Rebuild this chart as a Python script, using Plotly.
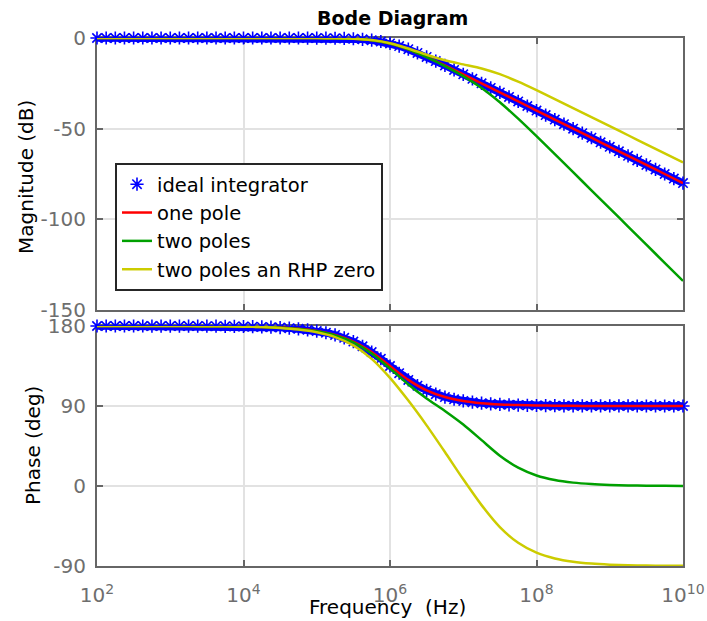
import plotly.graph_objects as go

# ---------------- data ----------------
freq_hz = [1e2, 1.78e2, 3.16e2, 5.62e2, 1e3, 1.78e3, 3.16e3, 5.62e3,
           1e4, 1.78e4, 3.16e4, 5.62e4, 1e5, 1.78e5, 3.16e5, 5.62e5,
           1e6, 1.78e6, 3.16e6, 5.62e6, 1e7, 1.78e7, 3.16e7, 5.62e7,
           1e8, 1.78e8, 3.16e8, 5.62e8, 1e9, 1.78e9, 3.16e9, 5.62e9, 1e10]

# the ideal integrator is drawn with many asterisk markers (denser grid)
ideal_freq_hz = [1e2, 1.334e2, 1.778e2, 2.371e2, 3.162e2, 4.217e2, 5.623e2, 7.499e2,
                 1e3, 1.334e3, 1.778e3, 2.371e3, 3.162e3, 4.217e3, 5.623e3, 7.499e3,
                 1e4, 1.334e4, 1.778e4, 2.371e4, 3.162e4, 4.217e4, 5.623e4, 7.499e4,
                 1e5, 1.334e5, 1.778e5, 2.371e5, 3.162e5, 4.217e5, 5.623e5, 7.499e5,
                 1e6, 1.334e6, 1.778e6, 2.371e6, 3.162e6, 4.217e6, 5.623e6, 7.499e6,
                 1e7, 1.334e7, 1.778e7, 2.371e7, 3.162e7, 4.217e7, 5.623e7, 7.499e7,
                 1e8, 1.334e8, 1.778e8, 2.371e8, 3.162e8, 4.217e8, 5.623e8, 7.499e8,
                 1e9, 1.334e9, 1.778e9, 2.371e9, 3.162e9, 4.217e9, 5.623e9, 7.499e9,
                 1e10]
ideal_mag = [0, 0, 0, 0, 0, 0, 0, 0,
             0, 0, 0, 0, 0, 0, 0, 0,
             0, 0, 0, 0, 0, -0.01, -0.01, -0.02,
             -0.04, -0.08, -0.14, -0.24, -0.41, -0.71, -1.19, -1.94,
             -3.01, -4.44, -6.19, -8.21, -10.41, -12.74, -15.13, -17.58,
             -20.04, -22.52, -25.01, -27.51, -30.0, -32.5, -35.0, -37.5,
             -40.0, -42.5, -45.0, -47.5, -50.0, -52.5, -55.0, -57.5,
             -60.0, -62.5, -65.0, -67.5, -70.0, -72.5, -75.0, -77.5,
             -80.0]
ideal_phase = [179.99, 179.99, 179.99, 179.99, 179.98, 179.98, 179.97, 179.96,
               179.94, 179.92, 179.9, 179.86, 179.82, 179.76, 179.68, 179.57,
               179.43, 179.24, 178.98, 178.64, 178.19, 177.59, 176.78, 175.71,
               174.29, 172.4, 169.92, 166.66, 162.45, 157.13, 150.64, 143.13,
               135.0, 126.87, 119.36, 112.87, 107.55, 103.34, 100.08, 97.6,
               95.71, 94.29, 93.22, 92.41, 91.81, 91.36, 91.02, 90.76,
               90.57, 90.43, 90.32, 90.24, 90.18, 90.14, 90.1, 90.08,
               90.06, 90.04, 90.03, 90.02, 90.02, 90.01, 90.01, 90.01,
               90.01]

one_pole_mag = [0, 0, 0, 0, 0, 0, 0, 0, 0, 0, 0, -0.01, -0.04, -0.14, -0.41, -1.19,
                -3.01, -6.19, -10.41, -15.13, -20.04, -25.01, -30.0, -35.0,
                -40.0, -45.0, -50.0, -55.0, -60.0, -65.0, -70.0, -75.0, -80.0]
one_pole_phase = [179.99, 179.99, 179.98, 179.97, 179.94, 179.9, 179.82, 179.68,
                  179.43, 178.98, 178.19, 176.78, 174.29, 169.92, 162.45, 150.64,
                  135.0, 119.36, 107.55, 100.08, 95.71, 93.22, 91.81, 91.02,
                  90.57, 90.32, 90.18, 90.1, 90.06, 90.03, 90.02, 90.01, 90.01]

two_poles_mag = [0, 0, 0, 0, 0, 0, 0, 0, 0, 0, 0, -0.01, -0.04, -0.14, -0.41, -1.19,
                 -3.02, -6.22, -10.52, -15.46, -21.01, -27.54, -35.44, -44.5,
                 -54.15, -64.03, -74.0, -83.99, -93.98, -103.98, -113.98, -123.98, -133.98]
two_poles_phase = [179.99, 179.99, 179.98, 179.97, 179.94, 179.89, 179.8, 179.65,
                   179.4, 178.93, 178.1, 176.62, 174.0, 169.41, 161.54, 149.03,
                   132.14, 114.28, 98.56, 84.37, 69.14, 51.59, 34.12, 20.6,
                   11.88, 6.74, 3.8, 2.14, 1.21, 0.67, 0.38, 0.21, 0.12]

rhp_mag = [0, 0, 0, 0, 0, 0, 0, 0, 0, 0, 0, -0.01, -0.04, -0.13, -0.4, -1.14,
           -2.87, -5.77, -9.24, -12.27, -14.55, -16.81, -19.96, -24.11,
           -28.79, -33.68, -38.65, -43.64, -48.63, -53.63, -58.63, -63.63, -68.63]
rhp_phase = [179.99, 179.99, 179.98, 179.96, 179.93, 179.87, 179.77, 179.59,
             179.29, 178.74, 177.76, 176.02, 172.94, 167.52, 158.19, 143.08,
             121.65, 96.06, 68.2, 38.21, 7.51, -21.52, -46.19, -63.91,
             -75.03, -81.52, -85.22, -87.31, -88.48, -89.16, -89.52, -89.73, -89.85]

series_names = ["ideal integrator", "one pole", "two poles", "two poles an RHP zero"]
x_tickvals = [1e2, 1e4, 1e6, 1e8, 1e10]
x_ticktext = ["10<sup>2</sup>", "10<sup>4</sup>", "10<sup>6</sup>", "10<sup>8</sup>", "10<sup>10</sup>"]
mag_ticks = [-150, -100, -50, 0]
mag_ticktext = ["-150", "-100", "-50", "0"]
phase_ticks = [-90, 0, 90, 180]
phase_ticktext = ["-90", "0", "90", "180"]

# ---------------- styling ----------------
FONT = "DejaVu Sans"
BLUE, RED, GREEN, YELLOW = "#0000ff", "#ff0000", "#00a000", "#cccc00"
AXC = "#666666"
GRIDC = "#e2e2e2"
TICKC = "#6e6e6e"

fig = go.Figure()

def add_panel(xa, ya, ideal, one, two, rhp, legend):
    fig.add_trace(go.Scatter(x=ideal_freq_hz, y=ideal, mode="lines", xaxis=xa, yaxis=ya,
                             line=dict(color=BLUE, width=7.5),
                             showlegend=False, hoverinfo="skip"))
    fig.add_trace(go.Scatter(x=ideal_freq_hz, y=ideal, mode="markers", xaxis=xa, yaxis=ya,
                             name=series_names[0], showlegend=legend, cliponaxis=False,
                             marker=dict(symbol="asterisk-open", size=11, color=BLUE,
                                         line=dict(color=BLUE, width=1.6))))
    for vals, col, nm in [(one, RED, series_names[1]), (two, GREEN, series_names[2]),
                          (rhp, YELLOW, series_names[3])]:
        fig.add_trace(go.Scatter(x=freq_hz, y=vals, mode="lines", xaxis=xa, yaxis=ya,
                                 name=nm, showlegend=legend,
                                 line=dict(color=col, width=2.5, shape="spline", smoothing=0.7)))

add_panel("x", "y", ideal_mag, one_pole_mag, two_poles_mag, rhp_mag, True)
add_panel("x2", "y2", ideal_phase, one_pole_phase, two_poles_phase, rhp_phase, False)

common_axis = dict(showline=True, linecolor=AXC, linewidth=2, mirror="ticks",
                   ticks="inside", ticklen=6, tickwidth=2, tickcolor=AXC,
                   showgrid=True, gridcolor=GRIDC, gridwidth=1.5, zeroline=False,
                   layer="below traces", automargin=False,
                   tickfont=dict(family=FONT, size=20, color=TICKC))

L, R, T, B = 97, 24, 38, 55
W, H = 707, 621
PH = H - T - B
PW = W - L - R

def px(xp):
    return (xp - L) / PW

def py(yp):
    return (H - B - yp) / PH

def label(text, xp, yp, size, angle=0):
    return dict(text=text, x=px(xp), y=py(yp), xref="paper", yref="paper",
                xanchor="center", yanchor="middle", textangle=angle, showarrow=False,
                font=dict(family=FONT, size=size, color="black"))

fig.update_layout(
    width=W, height=H,
    margin=dict(l=L, r=R, t=T, b=B, autoexpand=False),
    paper_bgcolor="white", plot_bgcolor="white",
    font=dict(family=FONT, color="black"),
    xaxis=dict(type="log", range=[2, 10], domain=[0, 1], anchor="y",
               tickvals=x_tickvals, showticklabels=False, **common_axis),
    yaxis=dict(range=[-150, 0], domain=[256 / 528, 1], anchor="x",
               tickvals=mag_ticks, ticktext=mag_ticktext, ticklabelstandoff=5, **common_axis),
    xaxis2=dict(type="log", range=[2, 10], domain=[0, 1], anchor="y2",
                tickvals=x_tickvals, ticktext=x_ticktext, ticklabelstandoff=10, **common_axis),
    yaxis2=dict(range=[-90, 180], domain=[0, 240 / 528], anchor="x2",
                tickvals=phase_ticks, ticktext=phase_ticktext, ticklabelstandoff=5, **common_axis),
    legend=dict(x=px(115), y=py(163), xanchor="left", yanchor="top",
                bordercolor="#262626", borderwidth=2, bgcolor="white",
                font=dict(family=FONT, size=19.5, color="black"),
                itemwidth=30, tracegroupgap=0,
                entrywidthmode="pixels", entrywidth=255),
    showlegend=True,
    annotations=[
        label("<b>Bode Diagram</b>", 392, 18, 19),
        label("Magnitude (dB)", 26, 177, 20, -90),
        label("Phase (deg)", 33, 446, 20, -90),
        label("Frequency\u00a0 (Hz)", 387, 607, 20),
    ],
)

fig.write_html("out.html")
